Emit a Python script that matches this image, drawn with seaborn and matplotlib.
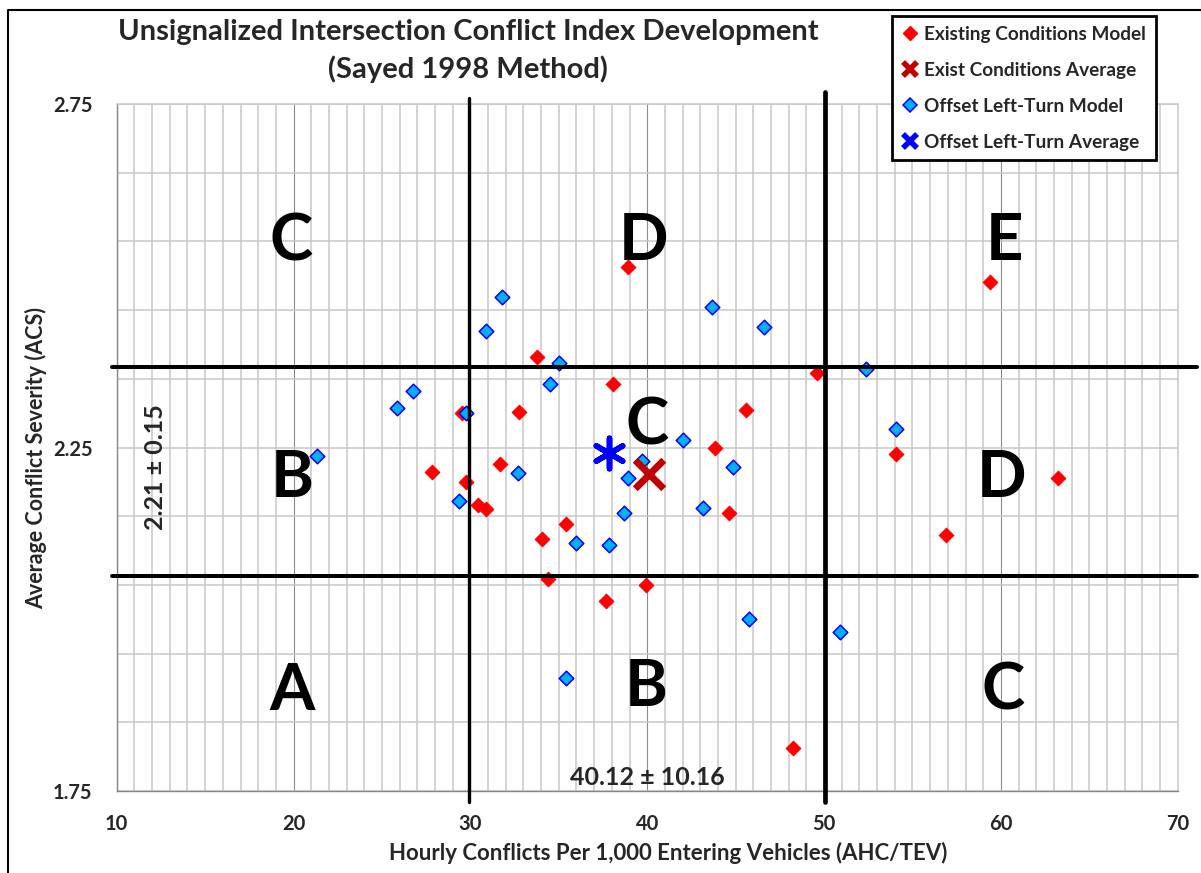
import numpy as np
import pandas as pd
import matplotlib
matplotlib.use("Agg")
import matplotlib.pyplot as plt
from matplotlib.lines import Line2D
from matplotlib.ticker import FixedLocator
import seaborn as sns

# ------------------------------
# Data
# ------------------------------
exist_x = [38.9, 59.4, 33.75, 38.05, 49.6, 45.6, 29.55, 32.75, 43.85, 54.05, 63.25, 56.9,
           27.85, 31.7, 29.75, 30.45, 30.9, 34.05, 35.4, 34.4, 37.65, 39.95, 44.6, 48.25]
exist_y = [2.513, 2.491, 2.382, 2.342, 2.359, 2.305, 2.301, 2.302, 2.250, 2.241, 2.206, 2.123,
           2.214, 2.226, 2.200, 2.166, 2.160, 2.117, 2.138, 2.058, 2.027, 2.050, 2.155, 1.812]

offset_x = [21.3, 25.85, 26.75, 29.75, 29.35, 30.9, 31.8, 32.7, 34.5, 35.0, 36.0, 35.4, 37.85,
            38.7, 38.9, 39.7, 42.05, 43.15, 43.65, 44.85, 45.75, 46.6, 52.35, 54.05, 50.9]
offset_y = [2.238, 2.308, 2.333, 2.300, 2.172, 2.420, 2.469, 2.213, 2.343, 2.373, 2.111, 1.915,
            2.108, 2.154, 2.205, 2.231, 2.261, 2.162, 2.455, 2.222, 2.000, 2.425, 2.365, 2.277,
            1.981]

exist_avg_x = [40.12]
exist_avg_y = [2.212]
offset_avg_x = [37.86]
offset_avg_y = [2.242]

# mean +/- sd boundaries
x_bounds = [29.9, 50.05]
y_bounds = [2.063, 2.367]

# level of service letters
los_letters = ["C", "D", "E", "B", "C", "D", "A", "B", "C"]
los_x = [19.85, 39.8, 60.2, 19.95, 40.0, 60.05, 19.9, 39.95, 60.15]
los_y = [2.523, 2.523, 2.523, 2.178, 2.254, 2.178, 1.868, 1.874, 1.868]

x_ticks = [10, 20, 30, 40, 50, 60, 70]
y_ticks = [1.75, 2.25, 2.75]

RED = "#FF0000"
DARK_RED = "#C00000"
SKY = "#00B0F0"
BLUE = "#0000FF"

# ------------------------------
# Figure
# ------------------------------
sns.set_style("white")
plt.rcParams["font.family"] = ["Lato", "DejaVu Sans"]
plt.rcParams["font.weight"] = "bold"

fig = plt.figure(figsize=(12.01, 8.73), dpi=100)
ax = fig.add_axes([0.0972, 0.0939, 0.8834, 0.7869])

ax.set_xlim(10, 70)
ax.set_ylim(1.75, 2.75)

ax.set_xticks(x_ticks)
ax.set_yticks(y_ticks)
ax.xaxis.set_minor_locator(FixedLocator(np.arange(10, 71, 1)))
ax.yaxis.set_minor_locator(FixedLocator(np.arange(1.75, 2.76, 0.1)))
ax.set_xticklabels([str(t) for t in x_ticks], fontsize=14.5, fontweight="bold")
ax.set_yticklabels([f"{t:.2f}" for t in y_ticks], fontsize=14.5, fontweight="bold")
ax.tick_params(which="major", direction="out", length=6.5, width=1, color="#868686")
ax.tick_params(axis="y", which="major", pad=11)
ax.tick_params(axis="x", which="major", pad=10)
ax.tick_params(which="minor", length=0)

# grid
ax.set_axisbelow(True)
ax.grid(which="minor", axis="both", color="#C8C8C8", linewidth=1.1)
ax.grid(which="major", axis="y", color="#C8C8C8", linewidth=1.1)
ax.grid(which="major", axis="x", color="#8C8C8C", linewidth=0.8)

for side in ["left", "bottom"]:
    ax.spines[side].set_color("#868686")
    ax.spines[side].set_linewidth(1)
for side in ["top", "right"]:
    ax.spines[side].set_color("#C8C8C8")
    ax.spines[side].set_linewidth(1.1)

# ------------------------------
# Points
# ------------------------------
df_exist = pd.DataFrame({"AHC/TEV": exist_x, "ACS": exist_y})
df_offset = pd.DataFrame({"AHC/TEV": offset_x, "ACS": offset_y})

sns.scatterplot(data=df_exist, x="AHC/TEV", y="ACS", marker="D", s=55,
                color=RED, edgecolor=RED, linewidth=0.8, ax=ax, zorder=3)
sns.scatterplot(data=df_offset, x="AHC/TEV", y="ACS", marker="D", s=55,
                color=SKY, edgecolor=BLUE, linewidth=1.1, ax=ax, zorder=4)
sns.scatterplot(x=exist_avg_x, y=exist_avg_y, marker="x", s=420,
                color=DARK_RED, linewidth=5, ax=ax, zorder=5)
sns.scatterplot(x=offset_avg_x, y=offset_avg_y, marker=(6, 2, 0), s=480,
                color=BLUE, linewidth=4, ax=ax, zorder=5)

# mean +/- sd lines (drawn a bit past the plot area)
ax.axvline(x_bounds[0], ymin=-0.016, ymax=1.009, color="black", lw=2.4, clip_on=False, zorder=6)
ax.axvline(x_bounds[1], ymin=-0.016, ymax=1.018, color="black", lw=3.4, clip_on=False, zorder=6)
for yb in y_bounds:
    ax.axhline(yb, xmin=-0.004, xmax=1.018, color="black", lw=2.9, clip_on=False, zorder=6)

# ------------------------------
# Text
# ------------------------------
for letter, lx, ly in zip(los_letters, los_x, los_y):
    ax.text(lx, ly, letter, fontsize=47, fontweight="bold", ha="center", va="baseline",
            color="black", zorder=7)

ax.text(40.0, 1.759, "40.12 \u00b1 10.16", fontsize=18, fontweight="bold",
        ha="center", va="baseline", zorder=7)
ax.text(12.2, 2.222, "2.21 \u00b1 0.15", fontsize=18, fontweight="bold", rotation=90,
        ha="center", va="center", zorder=7)

ax.set_xlabel("Hourly Conflicts Per 1,000 Entering Vehicles (AHC/TEV)", fontsize=16,
              fontweight="bold")
ax.set_ylabel("Average Conflict Severity (ACS)", fontsize=15.5, fontweight="bold")
ax.xaxis.set_label_coords(0.52, -0.074)
ax.yaxis.set_label_coords(-0.066, 0.485)

fig.text(468 / 1201, 1 - 51 / 873,
         "Unsignalized Intersection Conflict Index Development\n(Sayed 1998 Method)",
         fontsize=21, fontweight="bold", ha="center", va="center", linespacing=1.5)

# ------------------------------
# Legend
# ------------------------------
handles = [
    Line2D([], [], ls="none", marker="D", ms=7, mfc=RED, mec=RED),
    Line2D([], [], ls="none", marker="x", ms=10, mec=DARK_RED, mew=4),
    Line2D([], [], ls="none", marker="D", ms=7, mfc=SKY, mec=BLUE, mew=1.1),
    Line2D([], [], ls="none", marker="x", ms=10, mec=BLUE, mew=4),
]
labels = ["Existing Conditions Model", "Exist Conditions Average",
          "Offset Left-Turn Model", "Offset Left-Turn Average"]
leg = fig.legend(handles, labels, loc="upper left", bbox_to_anchor=(892 / 1201, 1 - 16 / 873),
                 frameon=True, fancybox=False, framealpha=1, edgecolor="black",
                 prop={"size": 13.7, "weight": "bold"}, labelspacing=1.0,
                 handlelength=0.9, handletextpad=0.3, borderpad=0.5, borderaxespad=0)
leg.get_frame().set_linewidth(2)

# outer frame (left and top edges)
fig.add_artist(Line2D([8 / 1201, 8 / 1201, 1], [0, 1 - 10 / 873, 1 - 10 / 873],
                      transform=fig.transFigure, color="black", lw=1.5))

fig.savefig("out.png", dpi=100)
